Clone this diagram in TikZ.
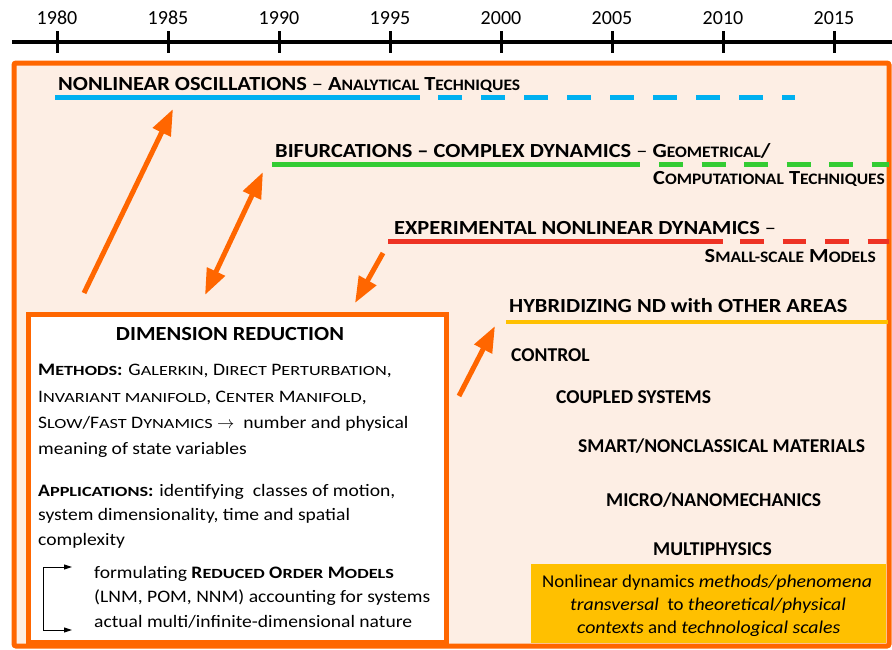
\documentclass[tikz,border=0pt]{standalone}
\usepackage{fontspec}
\usepackage{graphicx}
\setmainfont{Carlito}
\newfontfamily\wide{Carlito}[FakeStretch=1.12,Ligatures=TeX]
\newfontfamily\ntfont{Carlito}[UprightFeatures={FakeStretch=1.05},ItalicFeatures={FakeStretch=1.1}]
\usetikzlibrary{arrows.meta}
\definecolor{orng}{HTML}{FF6600}
\definecolor{peach}{HTML}{FDEEE4}
\definecolor{lblue}{HTML}{00B0F0}
\definecolor{lgreen}{HTML}{33CC33}
\definecolor{lred}{HTML}{EE3224}
\definecolor{ylw}{HTML}{FFC000}
\newcommand\sm[1]{\scalebox{0.78}[0.8]{#1}}
\newcommand\smb[1]{\scalebox{0.93}[0.8]{#1}}
\begin{document}
\begin{tikzpicture}[x=1pt,y=-1pt,
  yr/.style={font=\fontsize{20}{24}\selectfont, inner sep=0},
  hd/.style={font=\wide\bfseries\fontsize{20}{24}\selectfont, inner sep=0},
  item/.style={font=\bfseries\fontsize{19.6}{23}\selectfont, inner sep=0, anchor=base west},
  body/.style={font=\wide\fontsize{17.5}{26}\selectfont, inner sep=0, anchor=base west},
  nt/.style={font=\ntfont\fontsize{18}{23}\selectfont, inner sep=0, anchor=base west},
  oarr/.style={orng, line width=5pt, -{Triangle[length=26pt,width=19pt]}},
  tl/.style={line width=5pt},
]
\useasboundingbox (0,0) rectangle (892,649);
% time axis
\coordinate (axL) at (12,42);
\coordinate (axR) at (892,42);
\draw[line width=4pt] (axL) -- (axR);
\foreach \i/\yr in {0/1980,1/1985,2/1990,3/1995,4/2000,5/2005,6/2010,7/2015}{
  \draw[line width=3pt] ({57+\i*111},31) -- ({57+\i*111},53);
  \node[yr] (y\yr) at ({57+\i*111},18) {\yr};
}
% frame
\draw[orng, line width=5pt, fill=peach, rounded corners=2pt] (14,63) rectangle (889,646);
% timeline bars
\draw[lblue, tl] (55,97) -- (420,97);
\draw[lblue, tl, dash pattern=on 24pt off 19pt] (438,97) -- (795,97);
\draw[lgreen, tl] (272,164) -- (640,164);
\draw[lgreen, tl, dash pattern=on 24pt off 18.5pt] (659,164) -- (889,164);
\draw[lred, tl] (388,241) -- (723,241);
\draw[lred, tl, dash pattern=on 23.5pt off 19pt] (740,241) -- (889,241);
\draw[ylw, line width=4pt] (506,322) -- (888,322);
% headings
\node[hd, anchor=base west] (nlo) at (58,90) {NONLINEAR OSCILLATIONS {\mdseries \textendash} A\sm{NALYTICAL} T\sm{ECHNIQUES}};
\node[hd, anchor=base west] (bif) at (275,157) {BIFURCATIONS \textendash{} COMPLEX DYNAMICS {\mdseries \textendash} G\sm{EOMETRICAL}/};
\node[hd, anchor=base east] (bif2) at (885,184) {C\sm{OMPUTATIONAL} T\sm{ECHNIQUES}};
\node[hd, anchor=base west] (exp) at (394,234) {EXPERIMENTAL NONLINEAR DYNAMICS {\mdseries \textendash}};
\node[hd, anchor=base east] (exp2) at (876,262) {S\sm{MALL-SCALE} M\sm{ODELS}};
\node[hd, anchor=base west] (hyb) at (509,312) {HYBRIDIZING ND with OTHER AREAS};
% areas
\node[item] (ctl) at (511,361) {CONTROL};
\node[item] (cpl) at (556,403) {COUPLED SYSTEMS};
\node[item] (smt) at (578,452) {SMART/NONCLASSICAL MATERIALS};
\node[item] (mic) at (606,506) {MICRO/NANOMECHANICS};
\node[item] (mph) at (653,555) {MULTIPHYSICS};
% yellow note
\node[fill=ylw, minimum width=355pt, minimum height=79pt, inner sep=0] (notebox) at (708.5,603.5) {};
\node[nt] (n1) at (542,587) {Nonlinear dynamics \textit{methods/phenomena}};
\node[nt] (n2) at (570,610) {\textit{transversal}\ \ to \textit{theoretical/physical}};
\node[nt] (n3) at (577,633) {\textit{contexts} and \textit{technological scales}};
% dimension reduction box
\node[draw=orng, line width=5pt, fill=white, minimum width=418pt, minimum height=328pt, inner sep=0, anchor=north west] (dimbox) at (25.5,311.5) {};
\node[font=\wide\bfseries\fontsize{20}{23}\selectfont, inner sep=0, anchor=base] (dimt) at (230,340) {DIMENSION REDUCTION};
\node[body] (m1) at (38,375) {\textbf{M\smb{ETHODS}:} G\smb{ALERKIN}, D\smb{IRECT} P\smb{ERTURBATION},};
\node[body] (m2) at (38,402) {I\smb{NVARIANT MANIFOLD}, C\smb{ENTER} M\smb{ANIFOLD},};
\node[body] (m3) at (38,428) {S\smb{LOW}/F\smb{AST} D\smb{YNAMICS} $\rightarrow$\ \ number and physical};
\node[body] (m4) at (38,454) {meaning of state variables};
\node[body] (a1) at (38,496) {\textbf{A\smb{PPLICATIONS}:} identifying\ \ classes of motion,};
\node[body] (a2) at (38,520) {system dimensionality, time and spatial};
\node[body] (a3) at (38,545) {complexity};
\node[body] (r1) at (94,578) {formulating \textbf{R\smb{EDUCED} O\smb{RDER} M\smb{ODELS}}};
\node[body] (r2) at (94,602) {(LNM, POM, NNM) accounting for systems};
\node[body] (r3) at (94,627) {actual multi/infinite-dimensional nature};
% bracket arrows
\coordinate (bk1) at (72,567);
\coordinate (bk2) at (43,567);
\coordinate (bk3) at (43,630);
\coordinate (bk4) at (72,630);
\draw[line width=1pt, {Triangle[length=8pt,width=5pt]}-{Triangle[length=8pt,width=5pt]}] (bk1) -- (bk2) -- (bk3) -- (bk4);
% orange arrows
\coordinate (o1a) at (84,293);
\coordinate (o1b) at (173,109);
\coordinate (o2a) at (205,295);
\coordinate (o2b) at (263,172);
\coordinate (o3a) at (383,253);
\coordinate (o3b) at (355,303);
\coordinate (o4a) at (459,396);
\coordinate (o4b) at (495,326);
\draw[oarr] (o1a) -- (o1b);
\draw[oarr, {Triangle[length=26pt,width=19pt]}-{Triangle[length=26pt,width=19pt]}] (o2a) -- (o2b);
\draw[oarr] (o3a) -- (o3b);
\draw[oarr] (o4a) -- (o4b);
\end{tikzpicture}
\end{document}
